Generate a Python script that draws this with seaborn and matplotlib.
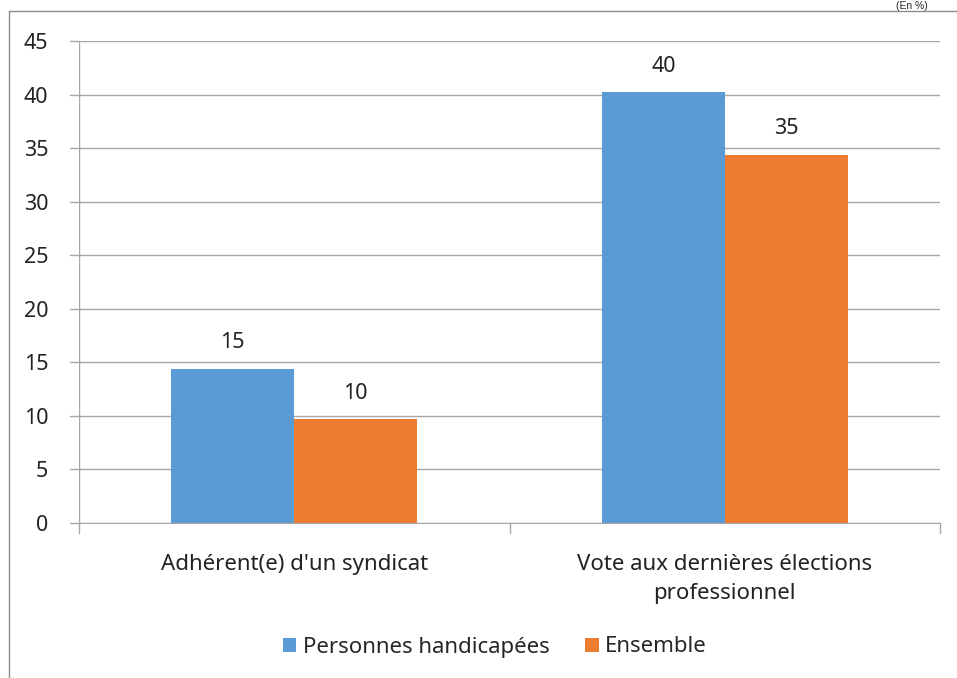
import pandas as pd
import seaborn as sns
import matplotlib.pyplot as plt
from matplotlib.lines import Line2D

# --- Data ---
categories = ["Adhérent(e) d'un syndicat", "Vote aux dernières élections\nprofessionnel"]
groups = ["Personnes handicapées", "Ensemble"]
handicapees = [14.4, 40.2]
ensemble = [9.7, 34.4]
labels_handicapees = ["15", "40"]
labels_ensemble = ["10", "35"]

df = pd.DataFrame({
    "Categorie": categories * 2,
    "Groupe": [groups[0]] * 2 + [groups[1]] * 2,
    "Valeur": handicapees + ensemble,
})

sns.set_style("white")
plt.rcParams['font.family'] = ['Noto Sans', 'DejaVu Sans']

fig = plt.figure(figsize=(9.57, 6.78), dpi=100)
ax = fig.add_axes([79 / 957, 1 - 523 / 678, (940 - 79) / 957, (523 - 41) / 678])

sns.barplot(data=df, x="Categorie", y="Valeur", hue="Groupe",
            palette=["#5B9BD5", "#ED7D31"], width=0.571, ax=ax,
            saturation=1, linewidth=0, legend=True)

# --- Value labels ---
for cont, labs in zip(ax.containers, [labels_handicapees, labels_ensemble]):
    ax.bar_label(cont, labels=labs, padding=11, fontsize=15.5, color="#222222")

# --- Axes styling ---
ax.set_ylim(0, 45)
ax.set_yticks(range(0, 46, 5))
ax.set_xlim(-0.5, 1.5)
ax.yaxis.grid(True, color="#A6A6A6", linewidth=1)
ax.set_axisbelow(True)
for side in ["top", "right", "left"]:
    ax.spines[side].set_visible(False)
ax.spines["bottom"].set_color("#A6A6A6")
ax.set_xlabel("")
ax.set_ylabel("")
ax.tick_params(axis="y", labelsize=15.5, length=0, pad=22, labelcolor="#222222")
ax.tick_params(axis="x", labelsize=16, length=0, pad=22, labelcolor="#222222")
for t in ax.get_xticklabels():
    t.set_linespacing(1.55)
ax.axvline(-0.5, color="#A6A6A6", linewidth=1)
for xv in [-0.5, 0.5, 1.5]:
    ax.plot([xv, xv], [0, -0.9], color="#A6A6A6", linewidth=1, clip_on=False)
for yv in range(0, 46, 5):
    ax.plot([-0.52, -0.5], [yv, yv], color="#A6A6A6", linewidth=1, clip_on=False)

# --- Legend ---
handles, labs = ax.get_legend_handles_labels()
ax.legend(handles, labs, loc="center", bbox_to_anchor=(495 / 957, 1 - 647 / 678),
          bbox_transform=fig.transFigure, ncol=2, frameon=False, fontsize=16,
          handlelength=0.6, handleheight=0.6, handletextpad=0.3, columnspacing=1.6)

# --- Frame and unit ---
fig.add_artist(Line2D([9 / 957, 1], [1 - 11 / 678, 1 - 11 / 678], color="#8C8C8C", linewidth=1))
fig.add_artist(Line2D([9 / 957, 9 / 957], [0, 1 - 11 / 678], color="#8C8C8C", linewidth=1))
fig.text(912 / 957, 1 - 1 / 678, "(En %)", ha="center", va="top", fontsize=7.5,
         family=["Liberation Sans", "DejaVu Sans"])

plt.savefig("out.png", dpi=100)
plt.close()
